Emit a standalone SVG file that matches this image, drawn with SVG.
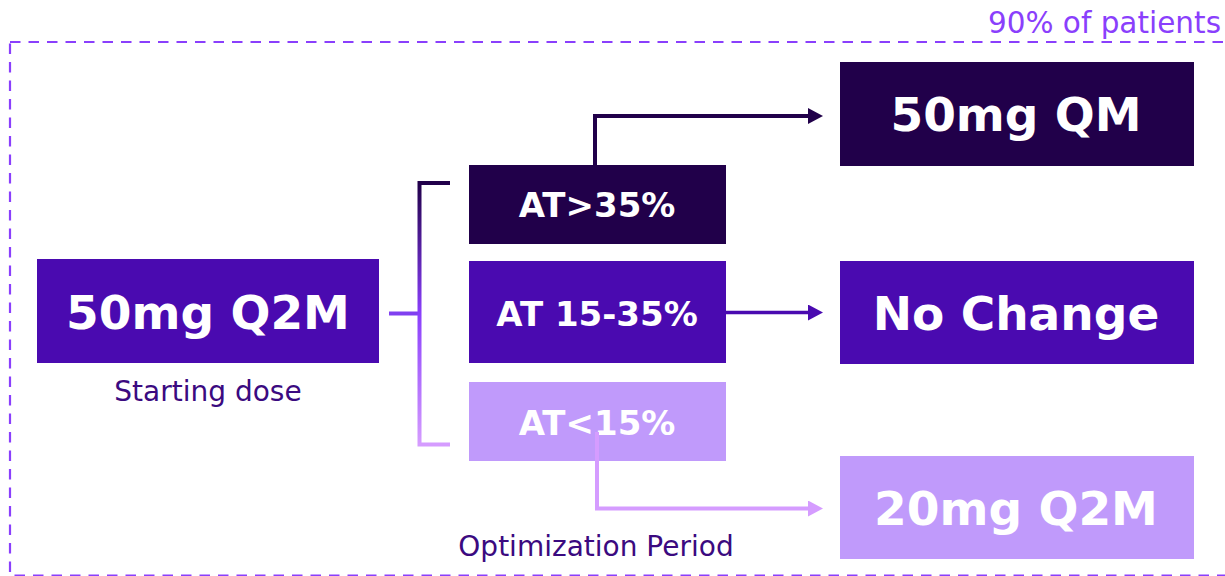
<svg xmlns="http://www.w3.org/2000/svg" width="1225" height="576" viewBox="0 0 1225 576">
  <style>
    .dark { fill: #21004a; }
    .mid { fill: #4a0ab0; }
    .light { fill: #c09afb; }
    .big { font-family: "DejaVu Sans", Verdana, sans-serif; font-weight: bold; font-size: 47px; fill: #ffffff; text-anchor: middle; }
    .cond { font-family: "DejaVu Sans", Verdana, sans-serif; font-weight: bold; font-size: 34px; fill: #ffffff; text-anchor: middle; }
    .caption { font-family: "DejaVu Sans", Verdana, sans-serif; font-size: 28px; fill: #3b0a80; text-anchor: middle; }
    .frame-label { font-family: "DejaVu Sans", Verdana, sans-serif; font-size: 29.5px; fill: #8a3ffc; text-anchor: end; }
  </style>
  <defs>
    <linearGradient id="bracketGrad" gradientUnits="userSpaceOnUse" x1="0" y1="183" x2="0" y2="444">
      <stop offset="0" stop-color="#21004a"/>
      <stop offset="0.5" stop-color="#8a3ffc"/>
      <stop offset="1" stop-color="#d59cff"/>
    </linearGradient>
    <marker id="headDark" markerUnits="userSpaceOnUse" markerWidth="16" markerHeight="16" refX="0" refY="8" orient="auto">
      <path d="M0,0 L15,8 L0,16 Z" fill="#21004a"/>
    </marker>
    <marker id="headMid" markerUnits="userSpaceOnUse" markerWidth="16" markerHeight="16" refX="0" refY="8" orient="auto">
      <path d="M0,0 L15,8 L0,16 Z" fill="#4a0ab0"/>
    </marker>
    <marker id="headLight" markerUnits="userSpaceOnUse" markerWidth="16" markerHeight="16" refX="0" refY="8" orient="auto">
      <path d="M0,0 L15,8 L0,16 Z" fill="#d59cff"/>
    </marker>
  </defs>

  <!-- dashed population frame (right edge runs past the canvas) -->
  <g id="frame">
    <rect x="10" y="42" width="1230" height="533.5" fill="none" stroke="#8a3ffc" stroke-width="2.2" stroke-dasharray="10.5 8"/>
    <text class="frame-label" x="1221" y="33">90% of patients</text>
  </g>

  <!-- starting dose -->
  <g id="start">
    <rect class="mid" x="37" y="259" width="342" height="104"/>
    <text class="big" x="208" y="329">50mg Q2M</text>
    <text class="caption" x="208" y="401">Starting dose</text>
  </g>

  <!-- threshold boxes -->
  <g id="at-high">
    <rect class="dark" x="469" y="165" width="257" height="79"/>
    <text class="cond" x="597" y="217">AT&gt;35%</text>
  </g>
  <g id="at-mid">
    <rect class="mid" x="469" y="261" width="257" height="102"/>
    <text class="cond" x="597" y="325.5">AT 15-35%</text>
  </g>
  <g id="at-low">
    <rect class="light" x="469" y="382" width="257" height="79"/>
    <text class="cond" x="597" y="435">AT&lt;15%</text>
  </g>

  <!-- outcomes -->
  <g id="out-qm">
    <rect class="dark" x="840" y="62" width="354" height="104"/>
    <text class="big" x="1016" y="131">50mg QM</text>
  </g>
  <g id="out-nochange">
    <rect class="mid" x="840" y="261" width="354" height="103"/>
    <text class="big" x="1016" y="330">No Change</text>
  </g>
  <g id="out-20">
    <rect class="light" x="840" y="456" width="354" height="103"/>
    <text class="big" x="1016" y="525">20mg Q2M</text>
  </g>

  <g id="period">
    <text class="caption" x="596" y="556">Optimization Period</text>
  </g>

  <!-- connectors -->
  <g id="connectors" fill="none">
    <line x1="389" y1="313.5" x2="421" y2="313.5" stroke="#8040f0" stroke-width="4"/>
    <path d="M450,183 H419.5 V444.5 H450" stroke="url(#bracketGrad)" stroke-width="4"/>
    <path d="M595,165 V116 H808" stroke="#21004a" stroke-width="4" marker-end="url(#headDark)"/>
    <path d="M726,312.5 H808" stroke="#4a0ab0" stroke-width="3.5" marker-end="url(#headMid)"/>
    <path d="M597,432 V508.5 H808" stroke="#d59cff" stroke-width="4" marker-end="url(#headLight)"/>
  </g>
</svg>
